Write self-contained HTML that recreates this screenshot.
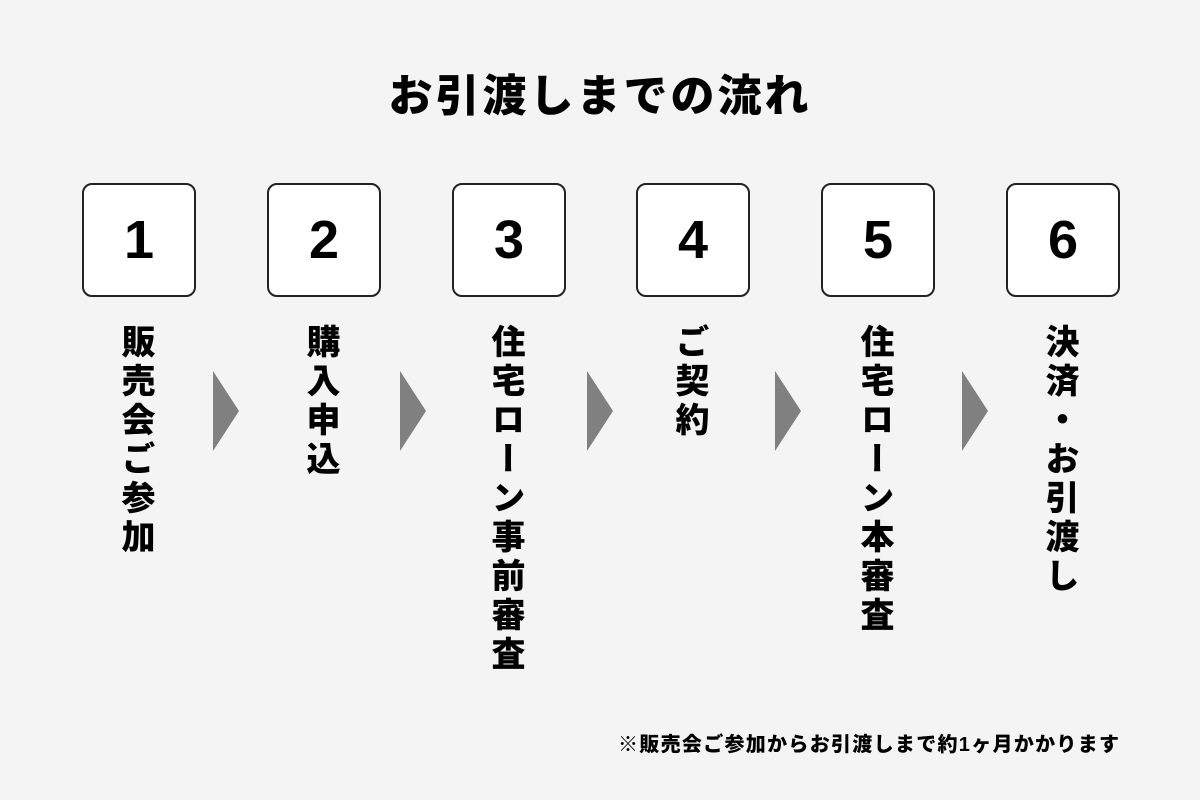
<!DOCTYPE html>
<html><head><meta charset="utf-8"><style>
body{margin:0;width:1200px;height:800px;background:#f4f4f4;position:relative;overflow:hidden;font-family:"Liberation Sans","Noto Sans CJK JP",sans-serif;font-weight:bold;color:#000}
.t{position:absolute;left:0;width:1200px;top:70px;text-align:center;font-size:44px;letter-spacing:3px;line-height:54px;font-weight:900}
.b{position:absolute;top:183px;width:110px;height:110px;border:2px solid #222;border-radius:10px;background:#fff;font-size:54px;line-height:110px;text-align:center;font-family:"Liberation Sans",sans-serif}
.v{position:absolute;top:324px;width:40px;writing-mode:vertical-rl;font-size:34px;letter-spacing:5px;line-height:40px;font-weight:900}
.a{position:absolute;top:371px;width:0;height:0;border-top:40px solid transparent;border-bottom:40px solid transparent;border-left:26px solid #808080}
.f{position:absolute;left:618px;top:731px;width:510px;font-size:20px;letter-spacing:1.3px;line-height:28px;white-space:nowrap;font-weight:900}
</style></head><body>
<div class="t">お引渡しまでの流れ</div>
<div class="b" style="left:82px">1</div>
<div class="b" style="left:267px">2</div>
<div class="b" style="left:452px">3</div>
<div class="b" style="left:636px">4</div>
<div class="b" style="left:821px">5</div>
<div class="b" style="left:1006px">6</div>
<div class="v" style="left:115px">販売会ご参加</div>
<div class="v" style="left:300px">購入申込</div>
<div class="v" style="left:485px">住宅ローン事前審査</div>
<div class="v" style="left:669px">ご契約</div>
<div class="v" style="left:854px">住宅ローン本審査</div>
<div class="v" style="left:1039px">決済・お引渡し</div>
<div class="a" style="left:213px"></div>
<div class="a" style="left:400px"></div>
<div class="a" style="left:587px"></div>
<div class="a" style="left:775px"></div>
<div class="a" style="left:962px"></div>
<div class="f">※販売会ご参加からお引渡しまで約1ヶ月かかります</div>
</body></html>
